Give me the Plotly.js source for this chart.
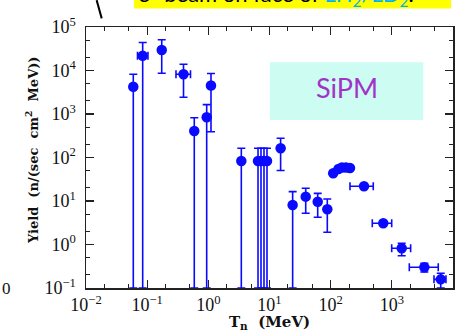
<!DOCTYPE html>
<html>
<head>
<meta charset="utf-8">
<script src="https://cdn.plot.ly/plotly-3.0.1.min.js"></script>
<style>html,body{margin:0;padding:0;background:#fff;}#chart{width:462px;height:332px;}</style>
</head>
<body>
<div id="chart"></div>
<script>
// Neutron energy T_n (MeV)
const energy = [0.0593, 0.0845, 0.173, 0.393, 0.589, 0.940, 1.105, 3.46, 6.49, 7.26, 8.13, 9.10,
  15.2, 23.9, 39.1, 61.4, 88.1, 110, 134, 153, 178, 207, 351, 724, 1449, 3400, 6300];
// Yield (n/(sec cm^2 MeV))
const yieldVals = [4250, 21900, 29600, 8180, 406, 840, 4520, 83.2, 83.2, 83.2, 83.2, 83.2,
  163, 8.09, 12.6, 9.64, 6.44, 43.4, 54.5, 58.9, 58.9, 57.4, 21.8, 3.07, 0.818, 0.299, 0.158];
// Upper / lower bounds of the yield error bars
const yieldHi = [8180, 44100, 50800, 13900, 822, 1640, 8540, 163, 163, 163, 163, 163,
  276, 16.4, 19.6, 15.0, 11.1, 43.4, 54.5, 58.9, 58.9, 57.4, 21.8, 3.07, 1.07, 0.370, 0.218];
const yieldLo = [0.1, 0.1, 8630, 2420, 0.1, 0.1, 392, 0.1, 0.1, 0.1, 0.1, 0.1,
  50.2, 0.1, 5.21, 4.22, 1.91, 43.4, 54.5, 58.9, 58.9, 57.4, 21.8, 3.07, 0.553, 0.233, 0.1];
// Energy bin bounds (null = no horizontal bar)
const energyLo = [null, 0.0695, null, 0.296, null, null, null, null, null, null, null, null,
  null, null, null, null, null, null, null, null, null, null, 207, 479, 995, 1930, 4890];
const energyHi = [null, 0.103, null, 0.511, null, null, null, null, null, null, null, null,
  null, null, null, null, null, null, null, null, null, null, 497, 995, 2030, 5740, 7670];

const xTickVals = [0.01, 0.1, 1, 10, 100, 1000, 10000];
const xTickText = ['10<sup>−2</sup>', '10<sup>−1</sup>', '10<sup>0</sup>', '10<sup>1</sup>', '10<sup>2</sup>', '10<sup>3</sup>', '10<sup>4</sup>'];
const yTickVals = [0.1, 1, 10, 100, 1000, 10000, 100000];
const yTickText = ['10<sup>−1</sup>', '10<sup>0</sup>', '10<sup>1</sup>', '10<sup>2</sup>', '10<sup>3</sup>', '10<sup>4</sup>', '10<sup>5</sup>'];

const blue = '#0a0aff';
const trace = {
  x: energy, y: yieldVals, type: 'scatter', mode: 'markers',
  marker: {color: blue, size: 10.5},
  error_y: {type: 'data', symmetric: false,
    array: yieldHi.map((h, i) => h - yieldVals[i]),
    arrayminus: yieldLo.map((l, i) => yieldVals[i] - l),
    color: blue, thickness: 1.6, width: 4},
  error_x: {type: 'data', symmetric: false,
    array: energyHi.map((h, i) => h === null ? 0 : h - energy[i]),
    arrayminus: energyLo.map((l, i) => l === null ? 0 : energy[i] - l),
    color: blue, thickness: 1.6, width: 4},
  cliponaxis: true, showlegend: false
};

const tickFont = {family: 'Liberation Serif', size: 18, color: '#111'};
const axisCommon = {
  type: 'log', showgrid: false, zeroline: false,
  showline: true, linecolor: '#222', linewidth: 1.5, mirror: 'allticks',
  ticks: 'inside', ticklen: 8, tickwidth: 1.2, tickcolor: '#222',
  tickmode: 'array', tickfont: tickFont,
  minor: {ticks: 'inside', ticklen: 4, tickwidth: 1, tickcolor: '#222', showgrid: false}
};

const layout = {
  width: 462, height: 332,
  margin: {l: 86, r: 9, t: 27, b: 44},
  paper_bgcolor: '#fff', plot_bgcolor: '#fff',
  xaxis: Object.assign({}, axisCommon, {
    range: [-2, 4], tickvals: xTickVals, ticktext: xTickText,
    title: {text: 'T<sub>n</sub>  (MeV)', font: {family: 'DejaVu Serif', size: 15, color: '#111', weight: 'bold'}, standoff: 4}
  }),
  yaxis: Object.assign({}, axisCommon, {
    range: [-1, 5], tickvals: yTickVals, ticktext: yTickText, ticklabelstandoff: 5
  }),
  shapes: [
    {type: 'rect', xref: 'paper', yref: 'paper', x0: 0.501, x1: 0.919, y0: 0.644, y1: 0.865,
      fillcolor: '#ccfcf2', line: {width: 0}, layer: 'below'},
    {type: 'rect', xref: 'paper', yref: 'paper', x0: 0.131, x1: 0.995, y0: 1.0709, y1: 1.12,
      fillcolor: '#ffff00', line: {width: 0}, layer: 'below'},
    {type: 'line', xref: 'paper', yref: 'paper', x0: 0.029, y0: 1.103, x1: 0.0428, y1: 1.033,
      line: {color: '#000', width: 2}}
  ],
  annotations: [
    {xref: 'paper', yref: 'paper', x: -0.147, y: 0.529, xanchor: 'center', yanchor: 'middle',
      textangle: -90, text: 'Yield  (n/(sec  cm<sup>2</sup>  MeV))', showarrow: false,
      font: {family: 'DejaVu Serif', size: 13, color: '#111', weight: 'bold'}},
    {xref: 'paper', yref: 'paper', x: 0.71, y: 0.77, xanchor: 'center', yanchor: 'middle',
      text: 'SiPM', showarrow: false,
      font: {family: 'Lato', size: 27, color: '#a333c8'}},
    {xref: 'paper', yref: 'paper', x: 0.14, y: 1.061, xanchor: 'left', yanchor: 'bottom',
      text: 'e<sup>−</sup> beam on face of <span style="color:#00b0f0">LH<sub>2</sub>/LD<sub>2</sub></span>.',
      showarrow: false, borderpad: 0, align: 'left',
      font: {family: 'Lato', size: 22, color: '#000'}},
    {xref: 'paper', yref: 'paper', x: -0.234, y: 0.0, xanchor: 'left', yanchor: 'middle',
      text: '0', showarrow: false, font: {family: 'Liberation Serif', size: 17, color: '#111'}}
  ]
};

Plotly.newPlot('chart', [trace], layout, {displayModeBar: false, staticPlot: true});
</script>
</body>
</html>
